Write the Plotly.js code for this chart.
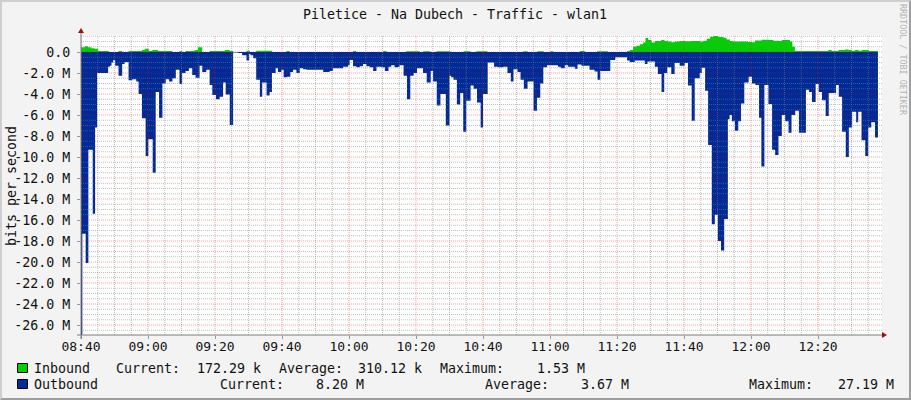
<!DOCTYPE html>
<html><head><meta charset="utf-8">
<script src="https://cdn.plot.ly/plotly-3.0.1.min.js"></script>
<style>
html,body{margin:0;padding:0;background:#f3f3f3}
#chart{width:911px;height:400px;position:relative}
#frame{position:absolute;left:0;top:0;width:911px;height:400px;box-sizing:border-box;pointer-events:none;
border-left:2px solid #cfcfcf;border-top:2px solid #cfcfcf;border-right:2px solid #9e9e9e;border-bottom:2px solid #9e9e9e}
</style></head><body>
<div id="chart"></div><div id="frame"></div>
<script>
// minutes after 08:40 at which each step starts, and the value (Mbit/s) of that step
const outMinutes = [0,.4,1.4,2.2,3.5,4.2,4.8,8.1,8.6,9.1,9.6,10.2,11.2,12.3,13,14.2,15.3,16.5,17.2,18.2,19.3,20.1,21.4,22.3,23.3,24.3,25.3,26.3,27.3,28.3,29.4,30.2,31.2,32.2,33.2,34.2,35.4,36.2,37.4,38.4,39.2,40.3,41.4,42.4,43.2,44.4,45.4,
46.9,48.1,49.4,50.2,50.6,51.4,52.3,53.4,54.1,55.4,56.3,57,58.1,58.8,59.8,60.5,61.5,62.5,63.3,64.3,65.3,66.3,67.3,72.3,73.3,74.2,75.2,78.2,79.7,80.2,81.2,82.2,83.2,84.2,85.2,86.2,87.2,88.2,89.7,90.7,91.8,92.6,93.6,
94.6,95.1,96.3,97.3,98.3,99.3,100.3,102.1,103.2,104.4,105.1,106.2,107.3,108.9,110,110.5,111.2,112.2,113.2,114.1,115,116.3,117.2,118.2,119.3,120,121.4,123.3,124.5,126,127.3,128.3,129.1,130.3,131.2,132.2,133.3,135.1,136.1,137.1,138,139.1,
142.4,143.2,144.4,145.4,147.4,148.2,149.4,151.8,153.3,154.2,155,158,159.5,163,163.8,165.3,168.3,169.1,171.3,172.2,173.3,174.1,175,176.2,177.2,178.7,180.2,181.2,182.3,183.2,184.7,
185.3,186.3,187.2,188.3,189.2,190.1,191.05,192,193.1,193.6,194.3,195.2,196.2,197,198,199.3,200.3,201.3,202.4,203.1,204,205.2,206.3,207.2,208.2,209.2,210.2,211.2,212.1,213.2,214.3,216.4,217.3,218.2,219.3,220.2,221.2,222.3,223.2,225.4,226.2,227.2,228.3,229.2,230.2,231.4,232,233,234.1,235,235.9,237,237.9];
const outValues = [27.19,17.3,20.1,9.3,15.4,7.2,2,1.4,1.3,1,.75,1.3,2.25,1.15,.95,2.7,2.6,2.8,4,6.3,9.9,8.3,11.5,3.8,6.25,3,2.6,2.8,2.5,1.7,3.05,2,1.8,1.55,2.2,2.45,1.3,1.9,1.7,3.15,4.1,4.5,4.25,2.9,4.05,6.95,.05,
.1,.3,.8,.2,.3,.6,2.65,4.25,2.9,4.15,3.8,2,1.55,1.9,1.7,2.4,2.35,1.9,1.7,2,1.55,1.65,1.7,1.9,1.9,1.8,1.55,1.4,1.25,.75,1.35,1.45,1.35,1.15,1.35,1.45,1.8,1.4,1.45,1.8,1.4,1.25,1.45,
1.4,1.25,2.25,4.5,2.25,2,1.55,2,2.9,1.8,2.8,5.1,4,7,2.25,2.4,2.65,5,3.9,7.6,4.65,3.2,3.5,4.8,7.2,4,1,1.4,1.45,1.4,2,2.8,1.65,1.9,2.65,3.5,2.8,5.6,4.35,3,1.45,1.25,
1.4,1.55,1.25,1.4,1.6,1.2,1.3,1.7,1.85,2.65,1.8,.75,.5,.8,.95,.8,1.15,.9,1.4,2.1,3.8,2,1.45,2.1,1.05,1.3,1.05,3.2,6.55,2.5,2,
1.5,3.7,8.85,16.4,15.5,18,18.9,15.9,6.4,6,6.6,7.5,6.6,4.9,2.9,2.35,3,3.15,6.25,10.9,3.15,4.95,9.3,9.8,8,6,6.6,7.7,6,5.6,7.7,3.6,3.8,4.75,3.05,3.8,4.6,6.1,3.9,3.15,4.25,7.6,10,7.2,5.7,6.7,5.7,8.4,9.9,7.2,6.7,8.15,8.15];
const inMinutes = [0,1.1,2.1,3.1,4.1,5.1,8.3,11.2,12.3,14.2,18.2,19,20.2,21.3,23,27.3,29.4,30.2,31.2,33.9,34.9,36.2,38.4,42.9,44.4,45.4,
49.4,50.4,52.3,57.1,61.3,62.3,81.2,82.2,90.2,91.2,
97.1,101.1,102.1,104.3,106.1,110.3,114.2,116.3,118,121.3,132,133.3,136.2,138.1,140.1,141,
148.9,150.4,154.1,157.3,
163,163.8,164.8,165.8,166.8,167.8,168.5,169.3,170.3,171.3,173.2,174.2,175.2,176.2,177.2,178.7,180.2,182.2,184.8,185.8,186.8,187.8,188.8,
190.25,191.75,192.7,193.7,194.7,197.2,199.2,200.2,201.2,203.2,205.2,206.7,208.2,209.2,210.85,211.65,212.35,213.1,223.1,224.1,226.1,228.1,229.1,230.1,231.1,232.1,233.1,235.1,237.9];
const inValues = [.45,.55,.45,.35,.3,.1,0,.1,0,.1,.2,.3,.1,.2,.1,0,.1,0,.1,.2,.45,0,.1,.2,.1,0,
.12,0,.12,0,.1,0,.1,0,.1,0,
.08,0,.08,0,.08,0,.08,0,.08,0,.08,0,.08,0,.08,0,
.1,0,.08,0,
.1,.2,.5,.6,.75,.9,1.33,1.15,.9,1.05,1.15,1.05,1,.92,1,1.05,1.03,1.05,1,1.08,1.27,1.45,1.53,
1.43,1.36,1.2,1.05,1,1,.95,.92,1.1,1.17,1.15,1.08,1.05,1.15,1.15,1,.5,.1,.2,.1,.2,.25,.2,.12,.2,.12,.2,.1,.1];
const yTicks = [0,-2,-4,-6,-8,-10,-12,-14,-16,-18,-20,-22,-24,-26];
const yLabels = ["0.0","-2.0 M","-4.0 M","-6.0 M","-8.0 M","-10.0 M","-12.0 M","-14.0 M","-16.0 M","-18.0 M","-20.0 M","-22.0 M","-24.0 M","-26.0 M"];
const row1Text = ["Inbound","Current:","172.29 k","Average:","310.12 k","Maximum:","1.53 M"];
const row2Text = ["Outbound","Current:","8.20 M","Average:","3.67 M","Maximum:","27.19 M"];
const row1Left = [34,116,197,279,358,440,537];
const row2Left = [34,220,316,485,581,749,838];

const GREEN="#00CF00", BLUE="#002A97", MONO="'DejaVu Sans Mono', monospace", INK="#111";
const base = Date.UTC(2014,0,1,8,40);
const t = m => base + m*60000;
const L=81,R=882,T=35,B=335,MINS=(R-L)/3.35;
const px = X => (X-L)/(R-L), py = Y => (B-Y)/(B-T);

const traces=[
 {name:"Inbound",type:"scatter",mode:"lines",x:inMinutes.map(t),y:inValues.map(v=>v*1e6),
  line:{shape:"hv",width:0,color:GREEN},fill:"tozeroy",fillcolor:GREEN,hoverinfo:"skip"},
 {name:"Outbound",type:"scatter",mode:"lines",x:outMinutes.map(t),y:outValues.map(v=>-v*1e6),
  line:{shape:"hv",width:0,color:BLUE},fill:"tozeroy",fillcolor:BLUE,hoverinfo:"skip"}
];

const ann=[];
function label(text,X,Y,extra){ ann.push(Object.assign({text,xref:"paper",yref:"paper",x:px(X-2),y:py(Y),xanchor:"left",yanchor:"middle",showarrow:false,
  font:{family:MONO,size:13.3,color:INK}},extra||{})); }
row1Text.forEach((s,i)=>label(s,row1Left[i],368));
row2Text.forEach((s,i)=>label(s,row2Left[i],384));
label("RRDTOOL / TOBI OETIKER",905,60,{textangle:90,xanchor:"center",font:{family:MONO,size:8.4,color:"#b4b4b4"}});
label("bits per second",13,186,{textangle:-90,xanchor:"center"});

const GRID_GRAY="rgba(128,128,128,.5)", GRID_RED="rgba(255,0,0,.38)", DASH="1px,1px";
const grid=[];
for(let m=0;m<=MINS;m+=5){
  grid.push({type:"line",layer:"above",xref:"x",yref:"paper",x0:t(m),x1:t(m),y0:0,y1:1,line:{color:m%20===0?GRID_RED:GRID_GRAY,width:1,dash:DASH}});
}
for(let v=1.5;v>=-26.5;v-=.5){
  grid.push({type:"line",layer:"above",xref:"paper",yref:"y",x0:0,x1:1,y0:v*1e6,y1:v*1e6,line:{color:v%2===0?GRID_RED:GRID_GRAY,width:1,dash:DASH}});
}
function box(x0,y0,x1,y1,fill){return {type:"rect",xref:"paper",yref:"paper",x0:px(x0),x1:px(x1),y0:py(y0),y1:py(y1),fillcolor:fill,line:{color:"#000",width:1}};}
function seg(x0,y0,x1,y1,c){return {type:"line",xref:"paper",yref:"paper",x0:px(x0),x1:px(x1),y0:py(y0),y1:py(y1),line:{color:c,width:1}};}
function tri(p,c){return {type:"path",xref:"paper",yref:"paper",path:"M"+p.map(q=>px(q[0])+","+py(q[1])).join("L")+"Z",fillcolor:c,line:{width:0}};}
const shapes=grid.concat([
 box(17.5,363.5,27.5,372.5,GREEN), box(17.5,379.5,27.5,388.5,BLUE),
 seg(81,31,81,339,"#7a7a7a"), seg(77,335,882,335,"#7a7a7a"),
 tri([[78,33],[84,33],[81,28]],"#8f1515"), tri([[882,332],[882,338],[887,335]],"#8f1515")
]);

const layout={
 width:911,height:400,margin:{l:L,r:911-R,t:T,b:400-B},
 paper_bgcolor:"#f3f3f3",plot_bgcolor:"#ffffff",showlegend:false,
 title:{text:"Piletice - Na Dubech - Traffic - wlan1",x:455/911,xref:"container",xanchor:"center",y:1-14/400,yanchor:"middle",
   font:{family:MONO,size:13.3,color:INK}},
 font:{family:MONO,size:13,color:INK},
 xaxis:{type:"date",range:[t(0),t(MINS)],tick0:t(0),dtick:1200000,tickformat:"%H:%M",
   showgrid:false,zeroline:false,showline:false,
   ticks:"outside",ticklen:3,tickcolor:"#999",ticklabelstandoff:-4,tickfont:{family:MONO,size:13,color:INK}},
 yaxis:{range:[-(B-52)/10.5*1e6,(52-T)/10.5*1e6],tickmode:"array",tickvals:yTicks.map(v=>v*1e6),ticktext:yLabels,
   showgrid:false,zeroline:false,showline:false,
   ticks:"outside",ticklen:3,tickcolor:"#999",ticklabelstandoff:4,tickfont:{family:MONO,size:13.3,color:INK}},
 annotations:ann,shapes:shapes
};
Plotly.newPlot("chart",traces,layout,{displayModeBar:false,staticPlot:true});
</script></body></html>
